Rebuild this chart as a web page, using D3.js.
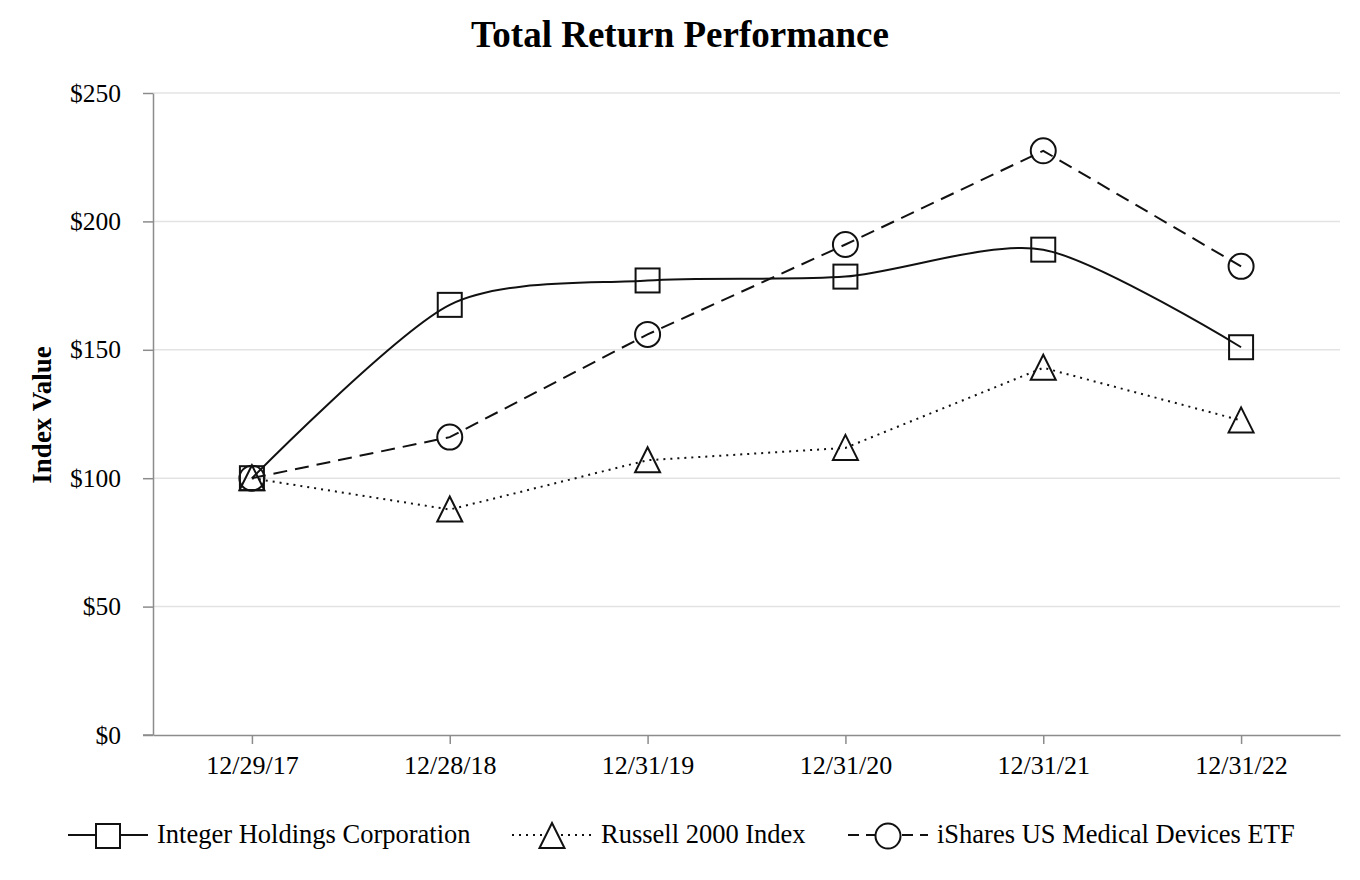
<!DOCTYPE html>
<html><head><meta charset="utf-8">
<script src="https://cdn.jsdelivr.net/npm/d3@7"></script>
<style>body{margin:0;background:#fff}svg{display:block}text{font-family:"Liberation Serif","Times New Roman",serif;fill:#000}</style>
</head><body><svg id="c" width="1360" height="880"></svg>
<script>
const categories = ["12/29/17","12/28/18","12/31/19","12/31/20","12/31/21","12/31/22"];
const integerValues = [100, 167.5, 177, 178.5, 189, 151];
const russellValues = [100, 87.8, 107, 111.8, 143, 122.5];
const isharesValues = [100, 116, 156, 191, 227.5, 182.5];
const yTicks = [0, 50, 100, 150, 200, 250];
const seriesNames = ["Integer Holdings Corporation", "Russell 2000 Index", "iShares US Medical Devices ETF"];

const svg = d3.select("#c");
const L = 153, R = 1340, T = 93, B = 735;
const x = d3.scalePoint().domain(categories).range([L, R]).padding(0.5);
const y = d3.scaleLinear().domain([0, 250]).range([B, T]);

svg.append("text").attr("x", 680).attr("y", 47).attr("text-anchor", "middle")
  .style("font-size", "37px").style("font-weight", "bold").text("Total Return Performance");

// gridlines
svg.append("g").selectAll("line").data(yTicks.filter(d => d > 0)).join("line")
  .attr("x1", L).attr("x2", R).attr("y1", d => y(d)).attr("y2", d => y(d))
  .attr("stroke", "#e3e3e3").attr("stroke-width", 1.5);

// y axis
const ya = svg.append("g").attr("transform", `translate(${L},0)`)
  .call(d3.axisLeft(y).tickValues(yTicks).tickSize(10).tickSizeOuter(0).tickPadding(22).tickFormat(d => "$" + d));
ya.select(".domain").attr("stroke", "#8c8c8c").attr("stroke-width", 1.5);
ya.selectAll(".tick line").attr("stroke", "#8c8c8c").attr("stroke-width", 1.5);
ya.selectAll("text").style("font-size", "25.5px").style("font-family", '"Liberation Serif",serif').attr("fill", "#000");

// x axis
const xa = svg.append("g").attr("transform", `translate(0,${B})`)
  .call(d3.axisBottom(x).tickSize(9).tickSizeOuter(0).tickPadding(12));
xa.select(".domain").attr("stroke", "#8c8c8c").attr("stroke-width", 1.5);
xa.selectAll(".tick line").attr("stroke", "#8c8c8c").attr("stroke-width", 1.5);
xa.selectAll("text").style("font-size", "26px").style("font-family", '"Liberation Serif",serif').attr("fill", "#000");
svg.append("line").attr("x1", L - 10).attr("x2", L).attr("y1", B).attr("y2", B).attr("stroke", "#8c8c8c").attr("stroke-width", 1.5);

svg.append("text").attr("transform", "translate(51,415) rotate(-90)").attr("text-anchor", "middle")
  .style("font-size", "27px").style("font-weight", "bold").text("Index Value");

const series = [
  {vals: integerValues, dash: null, curve: d3.curveCardinal.tension(0.2), marker: "square"},
  {vals: russellValues, dash: "2,5", curve: d3.curveLinear, marker: "triangle"},
  {vals: isharesValues, dash: "14,8", curve: d3.curveLinear, marker: "circle"}
];
const stroke = "#111";

function drawMarker(g, type, cx, cy) {
  if (type === "square") g.append("rect").attr("x", cx - 12).attr("y", cy - 12).attr("width", 24).attr("height", 24);
  else if (type === "circle") g.append("circle").attr("cx", cx).attr("cy", cy).attr("r", 12.5);
  else g.append("path").attr("d", `M${cx},${cy - 13}L${cx + 12.5},${cy + 12}L${cx - 12.5},${cy + 12}Z`);
}

series.forEach(s => {
  const line = d3.line().x((d, i) => x(categories[i])).y(d => y(d)).curve(s.curve);
  svg.append("path").datum(s.vals).attr("d", line).attr("fill", "none").attr("stroke", stroke)
    .attr("stroke-width", 2).attr("stroke-dasharray", s.dash);
  const g = svg.append("g").attr("fill", "none").attr("stroke", stroke).attr("stroke-width", 2);
  s.vals.forEach((v, i) => drawMarker(g, s.marker, x(categories[i]), y(v)));
});

// legend
const legendX = [68, 512, 848];
const legendY = 835;
series.forEach((s, i) => {
  const g = svg.append("g");
  g.append("line").attr("x1", legendX[i]).attr("x2", legendX[i] + 80).attr("y1", legendY).attr("y2", legendY)
    .attr("stroke", stroke).attr("stroke-width", 2).attr("stroke-dasharray", s.dash ? (i === 1 ? "2,5" : "11,7") : null);
  const mg = g.append("g").attr("fill", "#fff").attr("stroke", stroke).attr("stroke-width", 2);
  drawMarker(mg, s.marker, legendX[i] + 40, legendY + 1);
  g.append("text").attr("x", legendX[i] + 89).attr("y", legendY + 8).style("font-size", "26.5px").text(seriesNames[i]);
});
</script></body></html>
